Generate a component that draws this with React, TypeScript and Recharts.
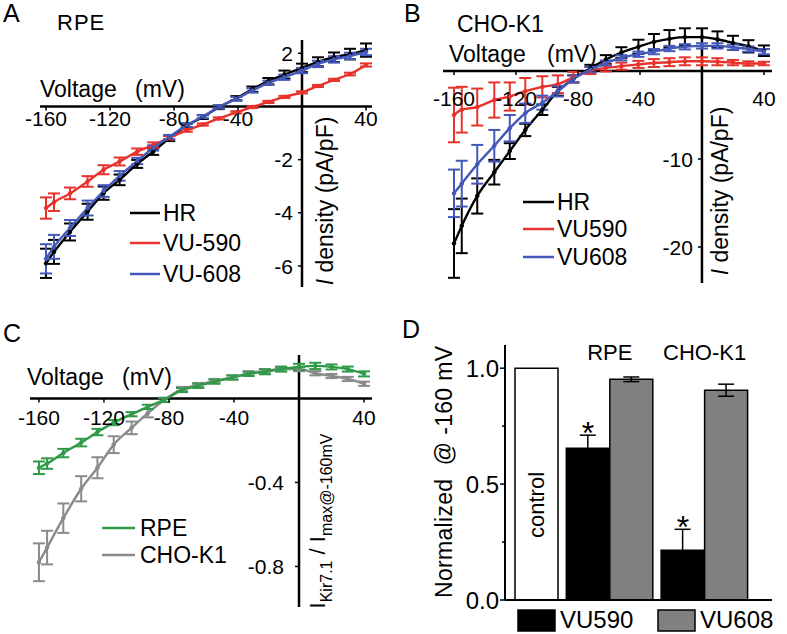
import React from 'react';
import {
  LineChart, Line, XAxis, YAxis, ReferenceLine, ReferenceDot, ErrorBar,
  BarChart, Bar, Cell, LabelList,
} from 'recharts';

const FONT = '"Liberation Sans", Arial, Helvetica, sans-serif';

// ---------- shared voltage steps (mV) ----------
const VOLTAGES = [-160, -155, -145, -134, -124, -114, -103, -93, -83, -72, -62, -52, -41, -31, -21, -11, 0, 10, 20, 30, 40];
const X_TICKS = [-160, -120, -80, -40, 40];

// ---------- Panel A : RPE ----------
const A_HR = [-5.9, -5.47, -4.72, -3.96, -3.26, -2.76, -2.16, -1.7, -1.2, -0.72, -0.4, -0.03, 0.31, 0.65, 0.95, 1.2, 1.45, 1.68, 1.85, 1.97, 2.12];
const A_HR_ERR = [0.55, 0.45, 0.32, 0.3, 0.25, 0.2, 0.15, 0.12, 0.1, 0.08, 0.07, 0.07, 0.08, 0.1, 0.12, 0.15, 0.16, 0.17, 0.18, 0.2, 0.25];
const A_VU590 = [-3.82, -3.6, -3.27, -2.82, -2.38, -2.07, -1.7, -1.45, -1.18, -0.9, -0.68, -0.45, -0.22, -0.02, 0.17, 0.36, 0.53, 0.77, 1.0, 1.22, 1.56];
const A_VU590_ERR = [0.4, 0.33, 0.22, 0.2, 0.17, 0.15, 0.12, 0.1, 0.07, 0.05, 0.04, 0.04, 0.04, 0.04, 0.04, 0.04, 0.04, 0.04, 0.04, 0.05, 0.06];
const A_VU608 = [-5.73, -5.28, -4.57, -3.82, -3.18, -2.61, -2.05, -1.56, -1.15, -0.7, -0.38, -0.02, 0.29, 0.6, 0.89, 1.1, 1.35, 1.6, 1.77, 1.9, 2.05];
const A_VU608_ERR = [0.55, 0.45, 0.3, 0.28, 0.22, 0.18, 0.12, 0.1, 0.08, 0.07, 0.06, 0.06, 0.07, 0.08, 0.08, 0.1, 0.1, 0.12, 0.12, 0.12, 0.12];
const A_Y_TICKS = [2, -2, -4, -6];
const A_LEGEND = ['HR', 'VU-590', 'VU-608'];

// ---------- Panel B : CHO-K1 ----------
const B_HR = [-19.6, -17.6, -14.2, -11.5, -9.1, -6.7, -4.4, -2.3, -0.9, 0.3, 1.3, 2.1, 2.75, 3.3, 3.65, 3.85, 3.85, 3.6, 3.2, 2.8, 2.3];
const B_HR_ERR = [3.9, 3.1, 2.0, 1.4, 0.9, 0.7, 0.6, 0.5, 0.4, 0.4, 0.5, 0.6, 0.8, 0.9, 1.0, 1.0, 1.0, 0.9, 0.8, 0.7, 0.6];
const B_VU590 = [-5.0, -4.4, -4.1, -3.3, -2.9, -2.3, -1.8, -1.5, -0.7, 0.05, 0.35, 0.55, 0.75, 0.9, 1.0, 1.1, 1.1, 1.05, 0.95, 0.85, 0.85];
const B_VU590_ERR = [3.1, 2.6, 2.1, 2.0, 1.6, 1.5, 1.2, 1.0, 0.6, 0.4, 0.4, 0.4, 0.4, 0.45, 0.45, 0.45, 0.45, 0.4, 0.3, 0.25, 0.2];
const B_VU608 = [-13.9, -12.8, -10.6, -8.5, -6.5, -4.8, -3.6, -2.3, -0.9, 0.15, 0.9, 1.5, 1.9, 2.2, 2.55, 2.75, 2.85, 2.85, 2.7, 2.5, 2.2];
const B_VU608_ERR = [2.7, 2.6, 2.2, 1.8, 1.5, 1.1, 0.8, 0.6, 0.4, 0.3, 0.3, 0.3, 0.3, 0.3, 0.3, 0.3, 0.3, 0.3, 0.3, 0.3, 0.3];
const B_Y_TICKS = [-10, -20];
const B_LEGEND = ['HR', 'VU590', 'VU608'];

// ---------- Panel C : normalized ----------
const C_RPE = [-0.33, -0.31, -0.26, -0.21, -0.16, -0.115, -0.075, -0.04, -0.007, 0.04, 0.06, 0.08, 0.1, 0.117, 0.127, 0.14, 0.15, 0.155, 0.15, 0.14, 0.117];
const C_RPE_ERR = [0.03, 0.025, 0.02, 0.018, 0.015, 0.012, 0.01, 0.01, 0.01, 0.01, 0.01, 0.01, 0.01, 0.01, 0.012, 0.012, 0.015, 0.015, 0.012, 0.012, 0.012];
const C_CHO = [-0.78, -0.71, -0.57, -0.43, -0.33, -0.22, -0.14, -0.07, -0.007, 0.045, 0.064, 0.083, 0.1, 0.12, 0.13, 0.14, 0.14, 0.12, 0.107, 0.093, 0.07];
const C_CHO_ERR = [0.09, 0.08, 0.07, 0.06, 0.05, 0.04, 0.03, 0.02, 0.01, 0.01, 0.01, 0.01, 0.01, 0.01, 0.01, 0.01, 0.01, 0.01, 0.01, 0.01, 0.01];
const C_Y_TICKS = [-0.4, -0.8];
const C_LEGEND = ['RPE', 'CHO-K1'];

// ---------- Panel D : bars ----------
const D_CELLS = ['control', 'RPE', 'RPE', 'CHO-K1', 'CHO-K1'];
const D_TREATMENT = ['control', 'VU590', 'VU608', 'VU590', 'VU608'];
const D_VALUES = [1.0, 0.655, 0.952, 0.215, 0.905];
const D_ERRORS = [0, 0.056, 0.01, 0.09, 0.026];
const D_SIGNIFICANT = [false, true, false, true, false];
const D_Y_TICKS = [0, 0.25, 0.5, 0.75, 1.0];
const D_Y_LABELED = [0, 0.5, 1.0];
const D_LEGEND = ['VU590', 'VU608'];

const C_BLACK = '#000000';
const C_RED = '#e8322c';
const C_BLUE = '#4358ba';
const C_GREEN = '#2f9a48';
const C_GRAY = '#8a8a8a';
const TREATMENT_FILL: Record<string, string> = { control: '#ffffff', VU590: '#000000', VU608: '#808080' };

type Series = { key: string; color: string; values: number[]; errors: number[] };

const xTickShape = (label: string, gap: number, fs: number) => (p: any) => (
  <g>
    <line x1={p.cx} x2={p.cx} y1={p.cy} y2={p.cy + 4} stroke="#000" strokeWidth={1.5} />
    <text x={p.cx} y={p.cy + gap + fs * 0.72} textAnchor="middle" fontSize={fs} fill="#000">{label}</text>
  </g>
);

const yTickShape = (label: string, gap: number, fs: number) => (p: any) => (
  <g>
    <line x1={p.cx - 4} x2={p.cx} y1={p.cy} y2={p.cy} stroke="#000" strokeWidth={1.5} />
    <text x={p.cx - gap} y={p.cy + fs * 0.36} textAnchor="end" fontSize={fs} fill="#000">{label}</text>
  </g>
);

function IVPanel(props: {
  left: number; top: number; width: number; height: number;
  margin: { top: number; right: number; bottom: number; left: number };
  xDomain: [number, number]; yDomain: [number, number];
  series: Series[]; yTicks: number[]; xGap: number; yGap: number;
}) {
  const { left, top, width, height, margin, xDomain, yDomain, series, yTicks, xGap, yGap } = props;
  const data = VOLTAGES.map((v, i) => {
    const row: any = { v };
    series.forEach((s) => {
      row[s.key] = s.values[i];
      row[s.key + 'Err'] = s.errors[i];
    });
    return row;
  });
  return (
    <div style={{ position: 'absolute', left, top }}>
      <LineChart width={width} height={height} data={data} margin={margin}>
        <XAxis type="number" dataKey="v" domain={xDomain} allowDataOverflow hide />
        <YAxis type="number" domain={yDomain} allowDataOverflow hide />
        {X_TICKS.map((t) => (
          <ReferenceDot key={'xt' + t} x={t} y={0} r={0} ifOverflow="visible" shape={xTickShape(String(t), xGap, 21)} />
        ))}
        {yTicks.map((t) => (
          <ReferenceDot key={'yt' + t} x={0} y={t} r={0} ifOverflow="visible" shape={yTickShape(String(t), yGap, 21)} />
        ))}
        <ReferenceLine y={0} stroke="#000" strokeWidth={2.5} />
        <ReferenceLine x={0} stroke="#000" strokeWidth={2.5} />
        {series.map((s) => (
          <Line
            key={s.key}
            dataKey={s.key}
            type="monotone"
            stroke={s.color}
            strokeWidth={2.4}
            dot={{ r: 1.8, fill: s.color, stroke: s.color, strokeWidth: 1 }}
            activeDot={false}
            isAnimationActive={false}
          >
            <ErrorBar dataKey={s.key + 'Err'} width={6} stroke={s.color} strokeWidth={2} direction="y" />
          </Line>
        ))}
      </LineChart>
    </div>
  );
}

// D layout: bars of the same cell line touch, a small gap separates cell lines
const D_GAP = 0.18;
const dPositions: number[] = [];
D_CELLS.forEach((cell, i) => {
  if (i === 0) dPositions.push(0);
  else dPositions.push(dPositions[i - 1] + 1 + (cell !== D_CELLS[i - 1] ? D_GAP : 0));
});
const dData = D_VALUES.map((v, i) => ({
  pos: dPositions[i],
  value: v,
  err: D_ERRORS[i],
  treatment: D_TREATMENT[i],
  inner: D_TREATMENT[i] === 'control' ? 'control' : '',
}));
const dGroups = Array.from(new Set(D_CELLS.filter((c) => c !== 'control'))).map((c) => {
  const ps = dPositions.filter((_, i) => D_CELLS[i] === c);
  return { name: c, center: ps.reduce((a, b) => a + b, 0) / ps.length };
});

const renderDTick = (p: any) => {
  const v = p.payload.value;
  const major = D_Y_LABELED.includes(v);
  return (
    <g>
      <line x1={p.x - (major ? 5 : 3)} x2={p.x} y1={p.y} y2={p.y} stroke="#000" strokeWidth={1.5} />
      {major && (
        <text x={p.x - 6} y={p.y + 8.5} textAnchor="end" fontSize={24} fill="#000">{v.toFixed(1)}</text>
      )}
    </g>
  );
};

const renderInner = (p: any) => {
  if (!p.value) return null;
  const cx = p.x + p.width / 2 + 7;
  const cy = p.y + p.height * 0.59;
  return (
    <text transform={`translate(${cx},${cy}) rotate(-90)`} textAnchor="middle" fontSize={22} fill="#000">{p.value}</text>
  );
};

function PanelD() {
  return (
    <div style={{ position: 'absolute', left: 393, top: 317 }}>
      <BarChart width={394} height={317} data={dData} margin={{ top: 28, right: 15, bottom: 34, left: 62 }}>
        <XAxis type="number" dataKey="pos" domain={[-0.73, 5.41]} allowDataOverflow hide />
        <YAxis
          type="number"
          domain={[0, 1.1]}
          allowDataOverflow
          ticks={D_Y_TICKS}
          interval={0}
          width={50}
          tickLine={false}
          tickSize={0}
          tickMargin={0}
          axisLine={{ stroke: '#000', strokeWidth: 2 }}
          tick={renderDTick}
        />
        <ReferenceLine y={0} stroke="#000" strokeWidth={2} />
        <Bar dataKey="value" barSize={43} stroke="#000" strokeWidth={1.5} isAnimationActive={false}>
          {dData.map((d, i) => (
            <Cell key={i} fill={TREATMENT_FILL[d.treatment]} />
          ))}
          <ErrorBar dataKey="err" width={8} stroke="#000" strokeWidth={1.5} direction="y" />
          <LabelList dataKey="inner" content={renderInner} />
        </Bar>
        {dData.map((d, i) =>
          D_SIGNIFICANT[i] ? (
            <ReferenceDot
              key={'sig' + i}
              x={d.pos}
              y={d.value + d.err}
              r={0}
              ifOverflow="visible"
              shape={(p: any) => (
                <text x={p.cx} y={p.cy + 9} textAnchor="middle" fontSize={32} fill="#000">*</text>
              )}
            />
          ) : null
        )}
        {dGroups.map((g) => (
          <ReferenceDot
            key={'g' + g.name}
            x={g.center}
            y={1.1}
            r={0}
            ifOverflow="visible"
            shape={(p: any) => (
              <text x={p.cx} y={p.cy + 15} textAnchor="middle" fontSize={22} fill="#000">{g.name}</text>
            )}
          />
        ))}
      </BarChart>
    </div>
  );
}

function LegendLines(props: { names: string[]; colors: string[]; x1: number; x2: number; tx: number; ys: number[]; fs: number }) {
  const { names, colors, x1, x2, tx, ys, fs } = props;
  return (
    <g>
      {names.map((n, i) => (
        <g key={n}>
          <line x1={x1} x2={x2} y1={ys[i]} y2={ys[i]} stroke={colors[i]} strokeWidth={2.5} />
          <text x={tx} y={ys[i] + fs * 0.36} fontSize={fs} fill="#000">{n}</text>
        </g>
      ))}
    </g>
  );
}

function Overlay() {
  return (
    <svg width={787} height={634} style={{ position: 'absolute', left: 0, top: 0, pointerEvents: 'none' }} fontFamily={FONT}>
      {/* Panel A */}
      <text x={3} y={22} fontSize={25}>A</text>
      <text x={57} y={30} fontSize={22} letterSpacing={1}>RPE</text>
      <text x={40} y={97} fontSize={23}>Voltage</text>
      <text x={135} y={97} fontSize={23}>(mV)</text>
      <LegendLines names={A_LEGEND} colors={[C_BLACK, C_RED, C_BLUE]} x1={130} x2={160} tx={163} ys={[213, 243, 274]} fs={23} />
      <text transform="translate(333,201) rotate(-90)" textAnchor="middle" fontSize={23}>
        <tspan fontStyle="italic">I</tspan> density (pA/pF)
      </text>

      {/* Panel B */}
      <text x={404} y={22} fontSize={25}>B</text>
      <text x={457} y={32} fontSize={23}>CHO-K1</text>
      <text x={449} y={62} fontSize={23}>Voltage</text>
      <text x={547} y={62} fontSize={23}>(mV)</text>
      <LegendLines names={B_LEGEND} colors={[C_BLACK, C_RED, C_BLUE]} x1={523} x2={554} tx={557} ys={[202, 229, 257]} fs={23} />
      <text transform="translate(728,191) rotate(-90)" textAnchor="middle" fontSize={23}>
        <tspan fontStyle="italic">I</tspan> density (pA/pF)
      </text>

      {/* Panel C */}
      <text x={3} y={342} fontSize={25}>C</text>
      <text x={27} y={385} fontSize={23}>Voltage</text>
      <text x={122} y={385} fontSize={23}>(mV)</text>
      <LegendLines names={C_LEGEND} colors={[C_GREEN, C_GRAY]} x1={102} x2={135} tx={140} ys={[528, 555]} fs={23} />
      <text transform="translate(325,521) rotate(-90)" textAnchor="middle" fontSize={22}>
        I<tspan fontSize={16} dy={7}>Kir7.1</tspan>
        <tspan dy={-7}> / I</tspan>
        <tspan fontSize={16} dy={7}>max@-160mV</tspan>
      </text>

      {/* Panel D */}
      <text x={402} y={338} fontSize={25}>D</text>
      <text
        transform="translate(452,472) rotate(-90)"
        textAnchor="middle"
        fontSize={23}
        textLength={252}
        lengthAdjust="spacing"
        style={{ whiteSpace: 'pre' }}
      >
        {'Normalized  @ -160 mV'}
      </text>
      <rect x={518} y={610} width={37} height={21} fill={TREATMENT_FILL.VU590} stroke="#000" strokeWidth={1.5} />
      <text x={560} y={628} fontSize={24}>{D_LEGEND[0]}</text>
      <rect x={658} y={610} width={37} height={21} fill={TREATMENT_FILL.VU608} stroke="#000" strokeWidth={1.5} />
      <text x={700} y={628} fontSize={24}>{D_LEGEND[1]}</text>
    </svg>
  );
}

export default function App() {
  return (
    <div style={{ position: 'absolute', left: 0, top: 0, width: 787, height: 634, background: '#fff', fontFamily: FONT, overflow: 'hidden' }}>
      <IVPanel
        left={0} top={0} width={393} height={317}
        margin={{ top: 40, right: 21, bottom: 30, left: 40 }}
        xDomain={[-163.75, 43.75]} yDomain={[-6.79, 2.5]}
        series={[
          { key: 'hr', color: C_BLACK, values: A_HR, errors: A_HR_ERR },
          { key: 'vu590', color: C_RED, values: A_VU590, errors: A_VU590_ERR },
          { key: 'vu608', color: C_BLUE, values: A_VU608, errors: A_VU608_ERR },
        ]}
        yTicks={A_Y_TICKS} xGap={4} yGap={9}
      />
      <IVPanel
        left={393} top={0} width={394} height={317}
        margin={{ top: 29, right: 15, bottom: 34, left: 50 }}
        xDomain={[-167.1, 45.2]} yDomain={[-24.09, 4.77]}
        series={[
          { key: 'hr', color: C_BLACK, values: B_HR, errors: B_HR_ERR },
          { key: 'vu590', color: C_RED, values: B_VU590, errors: B_VU590_ERR },
          { key: 'vu608', color: C_BLUE, values: B_VU608, errors: B_VU608_ERR },
        ]}
        yTicks={B_Y_TICKS} xGap={20} yGap={9}
      />
      <IVPanel
        left={0} top={317} width={393} height={317}
        margin={{ top: 38, right: 21, bottom: 27, left: 30 }}
        xDomain={[-165.5, 44.9]} yDomain={[-0.993, 0.207]}
        series={[
          { key: 'cho', color: C_GRAY, values: C_CHO, errors: C_CHO_ERR },
          { key: 'rpe', color: C_GREEN, values: C_RPE, errors: C_RPE_ERR },
        ]}
        yTicks={C_Y_TICKS} xGap={11} yGap={15}
      />
      <PanelD />
      <Overlay />
    </div>
  );
}
